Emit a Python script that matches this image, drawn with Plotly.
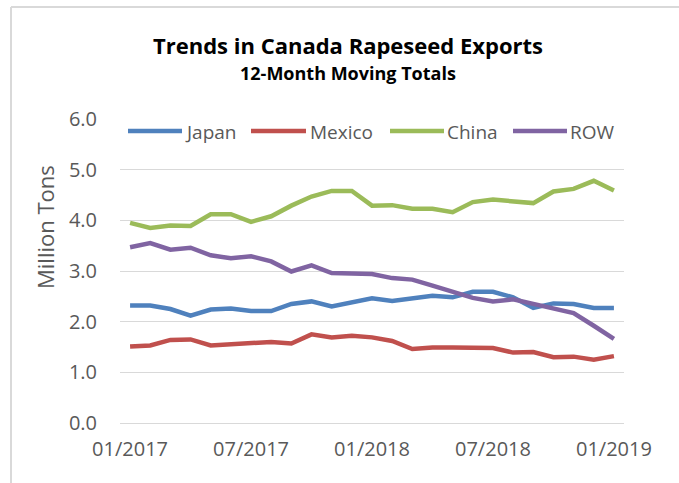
import plotly.graph_objects as go

months = ["01/2017", "02/2017", "03/2017", "04/2017", "05/2017", "06/2017",
          "07/2017", "08/2017", "09/2017", "10/2017", "11/2017", "12/2017",
          "01/2018", "02/2018", "03/2018", "04/2018", "05/2018", "06/2018",
          "07/2018", "08/2018", "09/2018", "10/2018", "11/2018", "12/2018",
          "01/2019"]

japan = [2.32, 2.32, 2.25, 2.12, 2.24, 2.26, 2.21, 2.21, 2.35, 2.40, 2.30, 2.38,
         2.46, 2.41, 2.46, 2.51, 2.48, 2.59, 2.59, 2.48, 2.27, 2.36, 2.35, 2.27, 2.27]
mexico = [1.51, 1.53, 1.64, 1.65, 1.53, 1.55, 1.56, 1.60, 1.57, 1.75, 1.69, 1.72,
          1.69, 1.62, 1.46, 1.49, 1.49, 1.48, 1.48, 1.39, 1.40, 1.30, 1.31, 1.25, 1.32]
china = [3.95, 3.85, 3.90, 3.89, 4.12, 4.12, 3.97, 4.08, 4.29, 4.47, 4.58, 4.58,
         4.29, 4.30, 4.23, 4.23, 4.16, 4.36, 4.41, 4.38, 4.34, 4.57, 4.62, 4.78, 4.59]
row = [3.47, 3.55, 3.42, 3.46, 3.31, 3.25, 3.29, 3.19, 2.99, 3.11, 2.96, 2.96,
       2.94, 2.86, 2.83, 2.71, 2.58, 2.47, 2.40, 2.44, 2.35, 2.27, 2.17, 1.92, 1.66]

x_ticks = ["01/2017", "07/2017", "01/2018", "07/2018", "01/2019"]
y_ticks = [0, 1, 2, 3, 4, 5, 6]

series = [("Japan", japan, "#4F81BD"), ("Mexico", mexico, "#C0504D"),
          ("China", china, "#9BBB59"), ("ROW", row, "#8064A2")]

FONT = "Open Sans"
GREY = "#595959"

W, H = 679, 483
L, R, T, B = 120, 55, 119, 60
pw, ph = W - L - R, H - T - B


def px(x):
    return (x - L) / pw


def py(y):
    return (H - B - y) / ph


fig = go.Figure()
for name, vals, color in series:
    fig.add_trace(go.Scatter(x=months, y=vals, name=name, mode="lines",
                             line=dict(color=color, width=4.5)))

# legend drawn inline at the top of the plot area (Excel-style long line keys)
legend_pos = [(128, 182, 183), (251, 306, 308), (390, 444, 445), (513, 567, 568)]
shapes = []
annotations = []
for (name, _, color), (lx0, lx1, tx) in zip(series, legend_pos):
    shapes.append(dict(type="line", xref="paper", yref="paper",
                       x0=px(lx0), x1=px(lx1), y0=py(131), y1=py(131),
                       line=dict(color=color, width=4.5)))
    annotations.append(dict(text=name, xref="paper", yref="paper",
                            x=px(tx), y=py(132), xanchor="left", yanchor="middle",
                            showarrow=False, font=dict(size=19, color=GREY, family=FONT)))

annotations += [
    dict(text="<b>Trends in Canada Rapeseed Exports</b>", xref="paper", yref="paper",
         x=px(348), y=py(45), xanchor="center", yanchor="middle", showarrow=False,
         font=dict(size=22, color="black", family=FONT)),
    dict(text="<b>12-Month Moving Totals</b>", xref="paper", yref="paper",
         x=px(348), y=py(73), xanchor="center", yanchor="middle", showarrow=False,
         font=dict(size=18, color="black", family=FONT)),
    dict(text="Million Tons", xref="paper", yref="paper", textangle=-90,
         x=px(45), y=py(227), xanchor="center", yanchor="middle", showarrow=False,
         font=dict(size=22, color=GREY, family=FONT)),
]

shapes += [
    dict(type="line", xref="paper", yref="paper", x0=px(11), x1=px(680), y0=py(7), y1=py(7),
         line=dict(color="#D9D9D9", width=2)),
    dict(type="line", xref="paper", yref="paper", x0=px(11), x1=px(11), y0=py(7), y1=py(484),
         line=dict(color="#D9D9D9", width=2)),
]

fig.update_layout(
    width=W, height=H,
    margin=dict(l=L, r=R, t=T, b=B, autoexpand=False),
    paper_bgcolor="white", plot_bgcolor="white",
    font=dict(family=FONT, color=GREY, size=18),
    showlegend=False,
    xaxis=dict(type="category", categoryorder="array", categoryarray=months,
               range=[-0.5, len(months) - 0.5], tickvals=x_ticks, ticktext=x_ticks,
               showgrid=False, showline=False, ticks="", ticklabelstandoff=12,
               tickfont=dict(size=20, color=GREY, family=FONT)),
    yaxis=dict(range=[0, 6], tickvals=y_ticks, tickformat=".1f",
               showgrid=True, gridcolor="#D9D9D9", gridwidth=1,
               zeroline=True, zerolinecolor="#D9D9D9", zerolinewidth=1,
               showline=False, ticks="", ticklabelstandoff=22,
               tickfont=dict(size=20, color=GREY, family=FONT)),
    annotations=annotations,
    shapes=shapes,
)

fig.write_html("out.html", config={"displayModeBar": False},
               post_script="document.body.style.margin='0';")
